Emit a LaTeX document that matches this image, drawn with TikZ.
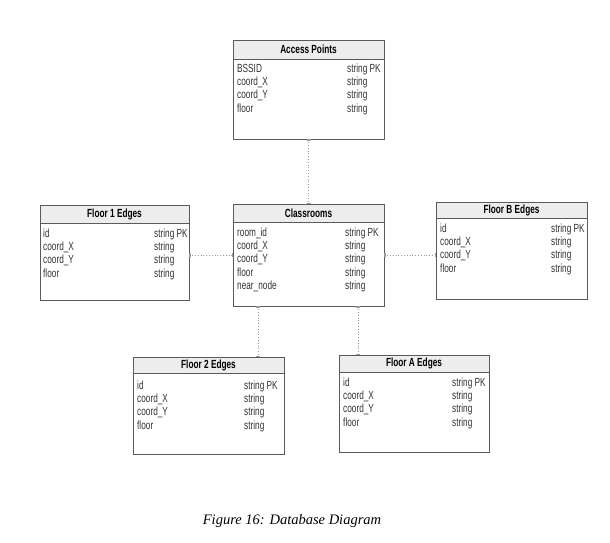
\documentclass[tikz,border=0pt]{standalone}
\usepackage{fontspec}
\setmainfont{Liberation Serif}
\newfontfamily\tabfont[FakeStretch=0.70]{Liberation Sans}
\usetikzlibrary{arrows.meta}
\definecolor{boxc}{HTML}{5A5A5A}
\definecolor{headc}{HTML}{EDEDED}
\definecolor{linec}{HTML}{9A9A9A}
\definecolor{txtc}{HTML}{333333}
\tikzset{
  entbox/.style={draw=boxc, line width=0.9pt, anchor=north west, inner sep=0pt, outer sep=0pt, fill=white},
  enthead/.style={draw=boxc, line width=0.9pt, fill=headc, anchor=north west, inner sep=0pt, outer sep=0pt,
    font=\tabfont\bfseries\fontsize{11.8}{11.8}\selectfont},
  field/.style={anchor=base west, inner sep=0pt, font=\tabfont\fontsize{11.8}{11.8}\selectfont, text=txtc},
  rel/.style={draw=linec, line width=0.8pt, dotted,
    {Bar[width=4pt,line width=0.6pt] Bar[width=4pt,line width=0.6pt]}-{Bar[width=4pt,line width=0.6pt] Bar[width=4pt,line width=0.6pt]}},
  caption/.style={font=\itshape\fontsize{14.5}{14.5}\selectfont, inner sep=0pt}
}
% #1 name, #2 x, #3 y, #4 width, #5 height, #6 header height, #7 title
\newcommand\entity[7]{%
  \node[entbox, minimum width=#4pt, minimum height=#5pt] (#1) at (#2,#3) {};
  \node[enthead, minimum width=#4pt, minimum height=#6pt] (#1-h) at (#2,#3) {#7};
}
% #1 name, #2 x name col, #3 x type col, #4 first baseline, #5 list
\newcommand\fields[5]{%
  \foreach \fa/\fb [count=\k] in {#5} {
    \node[field] (#1-\k) at (#2, {#4+(\k-1)*13.4}) {\fa};
    \node[field] (#1-\k t) at (#3, {#4+(\k-1)*13.4}) {\fb};
  }
}
\begin{document}
\begin{tikzpicture}[x=1pt,y=-1pt]
\useasboundingbox[fill=white] (0,0) rectangle (610,542);

\entity{ap}{233}{40}{151}{99}{19}{Access Points}
\fields{ap}{237}{347}{72}{BSSID/string PK, coord\_X/string, coord\_Y/string, floor/string}

\entity{fa1}{40}{205}{149}{95}{18}{Floor 1 Edges}
\fields{fa1}{43}{154}{237}{id/string PK, coord\_X/string, coord\_Y/string, floor/string}

\entity{cl}{233}{204}{151}{102}{18}{Classrooms}
\fields{cl}{237}{345}{236}{room\_id/string PK, coord\_X/string, coord\_Y/string, floor/string, near\_node/string}

\entity{fb}{436}{202}{151}{97}{16}{Floor B Edges}
\fields{fb}{440}{551}{232}{id/string PK, coord\_X/string, coord\_Y/string, floor/string}

\entity{f2}{133}{357}{151}{97}{16}{Floor 2 Edges}
\fields{f2}{137}{244}{389}{id/string PK, coord\_X/string, coord\_Y/string, floor/string}

\entity{ffa}{339}{355}{150}{97}{17}{Floor A Edges}
\fields{ffa}{343}{452}{386}{id/string PK, coord\_X/string, coord\_Y/string, floor/string}

\draw[rel] (ap.south) -- (cl-h.north);
\draw[rel] (fa1.east |- 0,255) -- (cl.west |- 0,255);
\draw[rel] (cl.east |- 0,255) -- (fb.west |- 0,255);
\draw[rel] (cl.south -| 258,0) -- (f2-h.north -| 258,0);
\draw[rel] (cl.south -| 358,0) -- (ffa-h.north -| 358,0);

\node[caption] (cap) at (292,521) {Figure 16: Database Diagram};
\end{tikzpicture}
\end{document}
